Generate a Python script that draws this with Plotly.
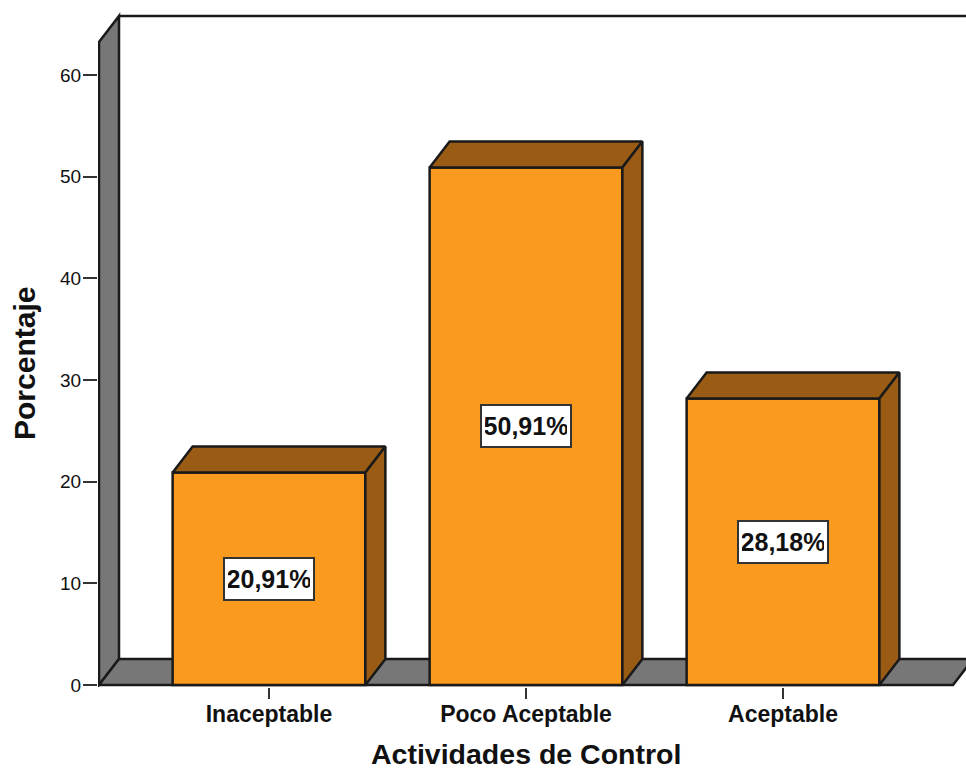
import plotly.graph_objects as go

categories = ["Inaceptable", "Poco Aceptable", "Aceptable"]
values = [20.91, 50.91, 28.18]
labels = ["20,91%", "50,91%", "28,18%"]
y_ticks = [0, 10, 20, 30, 40, 50, 60]

ORANGE = "#FA9A1E"
BROWN = "#9A5C14"
GREY = "#777777"
INK = "#1a1a1a"

W, H = 966, 771
L, T, B = 98, 10, 687
PX_X = 257.0          # pixels per category
PX_Y = 10.167         # pixels per percent
X0_PX, Y0_PX = 269, 685
BAR_W = 0.75
DX = 20 / PX_X        # oblique depth in axis units
DY = 26 / PX_Y

x_range = [(L - X0_PX) / PX_X, (W - X0_PX) / PX_X]
y_range = [(Y0_PX - B) / PX_Y, (Y0_PX - T) / PX_Y]
wall_left = (99 - X0_PX) / PX_X
floor_right = (953 - X0_PX) / PX_X
wall_top = (Y0_PX - 42) / PX_Y  # front top edge of the side wall


def paper_x(px):
    return (px - L) / (W - L)


def paper_y(px):
    return (B - px) / (B - T)


def poly(xs, ys, fill):
    return go.Scatter(x=xs, y=ys, mode="lines", fill="toself", fillcolor=fill,
                      line=dict(color=INK, width=2.5), hoverinfo="skip", showlegend=False)


fig = go.Figure()

# front faces
fig.add_trace(go.Bar(x=list(range(3)), y=values, width=BAR_W,
                     marker=dict(color=ORANGE, line=dict(color=INK, width=2.5)),
                     hoverinfo="skip", showlegend=False))

# top and side faces
for i, v in enumerate(values):
    x0, x1 = i - BAR_W / 2, i + BAR_W / 2
    fig.add_trace(poly([x0, x1, x1 + DX, x0 + DX, x0], [v, v, v + DY, v + DY, v], BROWN))
    fig.add_trace(poly([x1, x1 + DX, x1 + DX, x1, x1], [0, DY, v + DY, v, 0], BROWN))


def path(points):
    return "M " + " L ".join(f"{a},{b}" for a, b in points) + " Z"


line = dict(color=INK, width=2.5)
shapes = [
    # left wall
    dict(type="path", xref="x", yref="y", layer="below", fillcolor=GREY, line=line,
         path=path([(wall_left, 0), (wall_left + DX, DY),
                    (wall_left + DX, wall_top + DY), (wall_left, wall_top)])),
    # floor
    dict(type="path", xref="x", yref="y", layer="below", fillcolor=GREY, line=line,
         path=path([(wall_left, 0), (floor_right, 0),
                    (floor_right + DX, DY), (wall_left + DX, DY)])),
    # back wall top edge
    dict(type="line", xref="x", yref="y", layer="below", line=line,
         x0=wall_left + DX, x1=x_range[1], y0=wall_top + DY, y1=wall_top + DY),
]

annotations = [
    dict(x=i, y=v / 2, xref="x", yref="y", text=f"<b>{t}</b>", showarrow=False,
         font=dict(family="Liberation Sans", size=25, color="#111111"),
         width=82, height=34, align="center",
         bgcolor="white", bordercolor="#333333", borderwidth=2, borderpad=3)
    for i, (v, t) in enumerate(zip(values, labels))
]
annotations += [
    dict(x=paper_x(525.5), y=paper_y(754), xref="paper", yref="paper",
         xanchor="center", yanchor="middle",
         text="<b>Actividades de Control</b>", showarrow=False,
         font=dict(family="Liberation Sans", size=28.5, color="#111111")),
    dict(x=paper_x(25), y=paper_y(364), xref="paper", yref="paper", textangle=-90,
         xanchor="center", yanchor="middle",
         text="<b>Porcentaje</b>", showarrow=False,
         font=dict(family="Liberation Sans", size=30, color="#111111")),
]

fig.update_layout(
    width=W, height=H, autosize=False,
    margin=dict(l=L, r=0, t=T, b=H - B, pad=0),
    paper_bgcolor="white", plot_bgcolor="white",
    shapes=shapes, annotations=annotations, showlegend=False,
    xaxis=dict(range=x_range, tickmode="array", tickvals=list(range(3)), ticktext=categories,
               ticks="outside", ticklen=11, tickwidth=2, tickcolor="#333333",
               ticklabelstandoff=-5,
               tickfont=dict(family="Liberation Sans", size=23, color="#111111", weight="bold"),
               showgrid=False, zeroline=False, showline=False),
    yaxis=dict(range=y_range, tickmode="array", tickvals=y_ticks,
               ticks="outside", ticklen=14, tickwidth=2, tickcolor="#333333",
               ticklabelstandoff=-2,
               tickfont=dict(family="Liberation Sans", size=19, color="#111111"),
               showgrid=False, zeroline=False, showline=False),
)

fig.write_html("out.html", config=dict(displayModeBar=False),
               post_script="document.body.style.margin='0';document.body.style.overflow='hidden';")
